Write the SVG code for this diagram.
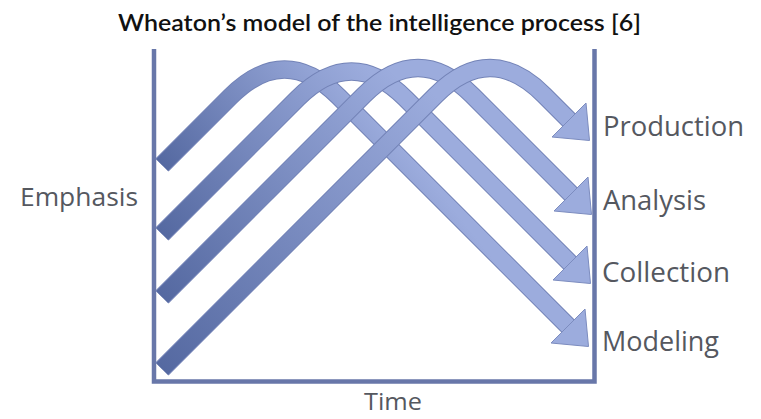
<svg xmlns="http://www.w3.org/2000/svg" width="761" height="419" viewBox="0 0 761 419">
  <defs>
    <linearGradient id="g1" gradientUnits="userSpaceOnUse" x1="162" y1="165" x2="320" y2="40">
      <stop offset="0" stop-color="#5569a1"/><stop offset="1" stop-color="#9cacdd"/>
    </linearGradient>
    <linearGradient id="g2" gradientUnits="userSpaceOnUse" x1="162" y1="234" x2="360" y2="60">
      <stop offset="0" stop-color="#5569a1"/><stop offset="1" stop-color="#9cacdd"/>
    </linearGradient>
    <linearGradient id="g3" gradientUnits="userSpaceOnUse" x1="162" y1="297" x2="400" y2="80">
      <stop offset="0" stop-color="#5569a1"/><stop offset="1" stop-color="#9cacdd"/>
    </linearGradient>
    <linearGradient id="g4" gradientUnits="userSpaceOnUse" x1="162" y1="369" x2="440" y2="100">
      <stop offset="0" stop-color="#5569a1"/><stop offset="1" stop-color="#9cacdd"/>
    </linearGradient>
    <style>
      .edge { fill: none; stroke: #7383b7; stroke-width: 18.5; stroke-linejoin: round; }
      .body { fill: none; stroke-width: 16.5; stroke-linejoin: round; }
      .head { fill: #9cacdd; stroke: #7c8cbf; stroke-width: 1; stroke-linejoin: round; }
      .axis { fill: none; stroke: #6877a9; stroke-width: 4.5; }
      .lbl { font-family: "Open Sans", "Liberation Sans", sans-serif; fill: #55585f; }
      .title { font-family: "Lato", "Liberation Sans", sans-serif; font-weight: 600; fill: #111111; }
    </style>
  </defs>

  <text class="title" x="118" y="31" font-size="23" textLength="523" lengthAdjust="spacingAndGlyphs">Wheaton’s model of the intelligence process [6]</text>

  <g id="axes">
    <path class="axis" d="M154,49 V381.5 H594.5 V49"/>
  </g>

  <g id="connectors">
    <g id="band-modeling">
      <path class="edge" d="M162,165 L230.5,96.5 Q284.5,42.5 338.5,96.5 L568,326"/>
      <path class="body" stroke="url(#g1)" d="M162,165 L230.5,96.5 Q284.5,42.5 338.5,96.5 L568,326"/>
      <polygon class="head" points="585,309 588.5,346.5 551,343"/>
    </g>
    <g id="band-collection">
      <path class="edge" d="M162,234 L297.5,98.5 Q351.5,44.5 405.5,98.5 L570,263"/>
      <path class="body" stroke="url(#g2)" d="M162,234 L297.5,98.5 Q351.5,44.5 405.5,98.5 L570,263"/>
      <polygon class="head" points="587,246 590.5,283.5 553,280"/>
    </g>
    <g id="band-analysis">
      <path class="edge" d="M162,297 L364,95 Q418,41 472,95 L571,194"/>
      <path class="body" stroke="url(#g3)" d="M162,297 L364,95 Q418,41 472,95 L571,194"/>
      <polygon class="head" points="588,177 591.5,214.5 554,211"/>
    </g>
    <g id="band-production">
      <path class="edge" d="M162,369 L436,95 Q490,41 544,95 L569,120"/>
      <path class="body" stroke="url(#g4)" d="M162,369 L436,95 Q490,41 544,95 L569,120"/>
      <polygon class="head" points="586,103 589.5,140.5 552,137"/>
    </g>
  </g>

  <g id="label-emphasis"><text class="lbl" x="20" y="206" font-size="26" textLength="118" lengthAdjust="spacingAndGlyphs">Emphasis</text></g>
  <g id="label-production"><text class="lbl" x="603" y="136" font-size="28" textLength="141" lengthAdjust="spacingAndGlyphs">Production</text></g>
  <g id="label-analysis"><text class="lbl" x="603" y="210" font-size="28" textLength="103" lengthAdjust="spacingAndGlyphs">Analysis</text></g>
  <g id="label-collection"><text class="lbl" x="602" y="282" font-size="28" textLength="128" lengthAdjust="spacingAndGlyphs">Collection</text></g>
  <g id="label-modeling"><text class="lbl" x="602" y="351" font-size="28" textLength="117" lengthAdjust="spacingAndGlyphs">Modeling</text></g>
  <g id="label-time"><text class="lbl" x="364" y="410" font-size="24" textLength="58" lengthAdjust="spacingAndGlyphs">Time</text></g>
</svg>
